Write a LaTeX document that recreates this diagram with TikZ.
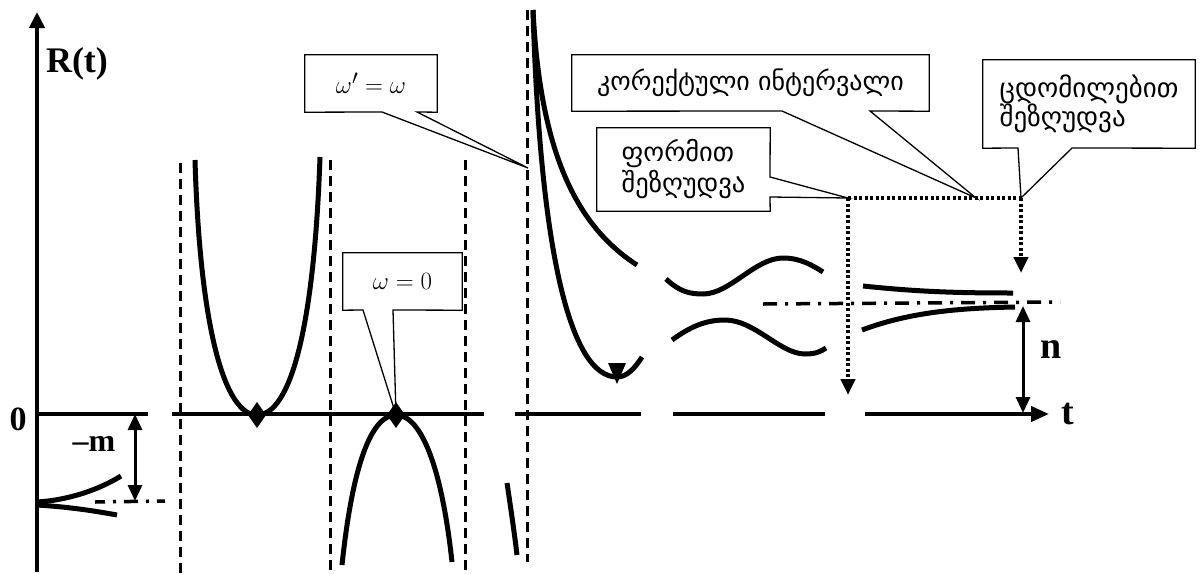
\documentclass[tikz,border=0pt]{standalone}
\usepackage[no-math]{fontspec}
\newfontfamily\geo{DejaVu Sans}
\newfontfamily\tnr{Liberation Serif}
\usetikzlibrary{arrows.meta}
\begin{document}
\begin{tikzpicture}[x=1pt,y=-1pt,
  curve/.style={line width=5pt},
  axisline/.style={line width=4pt},
  asym/.style={line width=3pt,dash pattern=on 10pt off 6pt},
  dotline/.style={line width=4pt,dash pattern=on 3pt off 2.5pt},
  dashdot/.style={line width=3.5pt,dash pattern=on 14pt off 8pt on 3pt off 8pt},
  callout/.style={line width=1.3pt,line join=miter},
  tip/.style={-{Triangle[length=16pt,width=14pt]}},
  tips/.style={{Triangle[length=16pt,width=14pt]}-{Triangle[length=16pt,width=14pt]}},
  lbl/.style={font=\tnr\bfseries\fontsize{34}{36}\selectfont,inner sep=0pt},
  mathtext/.style={font=\fontsize{30}{32}\selectfont,inner sep=0pt},
  geotext/.style={font=\geo\fontsize{26}{31}\selectfont,align=left,inner sep=0pt},
  boxnode/.style={draw=none,inner sep=0pt}]
\useasboundingbox (0,0) rectangle (1199,573);

% asymptotes
\draw[asym] (180,163) -- (180,573);
\draw[asym] (330,160) -- (330,573);
\draw[asym] (465,160) -- (465,573);
\draw[asym] (527,10) -- (527,562);

% axes
\coordinate (o) at (37,414);
\coordinate (ytop) at (37,12);
\draw[line width=4pt,-{Triangle[length=16pt,width=15pt]}] (37,572) -- (ytop);
\draw[axisline] (o) -- (148,414);
\draw[axisline] (172,414) -- (484,414);
\draw[axisline] (515,414) -- (641,414);
\draw[axisline] (673,414) -- (825,414);
\coordinate (tend) at (1049,414);
\draw[axisline,-{Triangle[length=18pt,width=15pt]}] (865,414) -- (tend);

% labels
\node[lbl,font=\tnr\bfseries\fontsize{36}{38}\selectfont] (Rt) at (77,64) {R(t)};
\node[lbl] (zero) at (18,419) {0};
\node[lbl,font=\tnr\bfseries\fontsize{32}{34}\selectfont] (mm) at (94,444) {–m};
\node[lbl,font=\tnr\bfseries\fontsize{38}{40}\selectfont] (nn) at (1051,350) {n};
\node[lbl,font=\tnr\bfseries\fontsize{38}{40}\selectfont] (tt) at (1068,414) {t};

% left branch
\draw[curve] (37,502) .. controls (70,500) and (100,489) .. (121,476);
\draw[curve] (37,505) .. controls (70,507) and (95,511) .. (117,515);
\draw[dashdot,dash phase=4pt] (95,502) -- (165,501);
\coordinate (mtop) at (135,414);
\coordinate (mbot) at (135,501);
\draw[line width=3pt,tips] (mtop) -- (mbot);

% upward U
\draw[curve] (195,160) .. controls (200,330) and (225,415) .. (257,415)
             .. controls (290,415) and (314,330) .. (320,157);
\coordinate (d1) at (257,415);
\fill (257,402) -- (266,415) -- (257,428) -- (248,415) -- cycle;

% downward cap
\draw[curve] (342,565) .. controls (352,470) and (370,415) .. (396,415)
             .. controls (422,415) and (442,470) .. (452,562);
\coordinate (d2) at (396,415);
\fill (396,402) -- (405,415) -- (396,428) -- (387,415) -- cycle;

% small piece left of asymptote
\draw[curve] (507,483) .. controls (511,510) and (514,530) .. (517,555);

% right branch
\draw[curve] (533,10) .. controls (540,150) and (575,225) .. (637,265);
\draw[curve] (533,10) .. controls (540,250) and (570,377) .. (617,377)
             .. controls (627,377) and (635,368) .. (642,357);
\fill (608,363) -- (626,363) -- (617,384) -- cycle;

% waves
\draw[curve] (666,279) .. controls (680,292) and (690,294) .. (703,294)
             .. controls (730,294) and (755,258) .. (783,258)
             .. controls (800,258) and (812,265) .. (823,272);
\draw[curve] (672,340) .. controls (690,327) and (705,320) .. (725,320)
             .. controls (755,320) and (780,354) .. (805,354)
             .. controls (815,354) and (820,352) .. (826,348);
\draw[dashdot] (763,304) -- (1060,302);

% converging curves
\draw[curve] (863,286) .. controls (920,292) and (960,293) .. (1013,293);
\draw[curve] (862,330) .. controls (910,312) and (960,308) .. (1015,307);
\coordinate (ntop) at (1023,306);
\coordinate (nbot) at (1023,413);
\draw[line width=3pt,tips] (ntop) -- (nbot);

% dotted guides
\coordinate (fp) at (848,198);
\coordinate (cp) at (976,198);
\coordinate (ep) at (1021,198);
\coordinate (fdown) at (848,395);
\coordinate (edown) at (1021,273);
\draw[dotline] (fp) -- (ep);
\draw[dotline,tip] (fp) -- (fdown);
\draw[dotline,tip] (ep) -- (edown);

% callout omega = 0
\node[boxnode,minimum width=119pt,minimum height=57pt,mathtext] (w0) at (402.5,281.5) {$\omega = 0$};
\draw[callout] (w0.south west) -- (w0.north west) -- (w0.north east) -- (w0.south east)
  -- (393,310) -- (d2) -- (363,310) -- cycle;

% callout omega' = omega
\coordinate (ap) at (528,168);
\node[boxnode,minimum width=132pt,minimum height=57pt,mathtext] (w1) at (371,83.5) {$\omega' = \omega$};
\draw[callout] (w1.south west) -- (w1.north west) -- (w1.north east) -- (w1.south east)
  -- (417,112) -- (ap) -- (382,112) -- cycle;

% callout correct interval
\node[boxnode,minimum width=357pt,minimum height=56pt,geotext] (ci) at (750.5,83) {კორექტული ინტერვალი};
\draw[callout] (ci.south west) -- (ci.north west) -- (ci.north east) -- (ci.south east)
  -- (870,111) -- (cp) -- (782,111) -- cycle;

% callout form restriction
\node[boxnode,minimum width=173pt,minimum height=83pt,geotext,font=\geo\fontsize{26.5}{31}\selectfont] (fr) at (683.5,169.5) {ფორმით\\შეზღუდვა};
\draw[callout] (fr.south west) -- (fr.north west) -- (fr.north east) -- (770,177)
  -- (fp) -- (770,197) -- (fr.south east) -- cycle;

% callout error restriction
\node[boxnode,minimum width=212pt,minimum height=88pt,geotext,font=\geo\fontsize{27}{29}\selectfont] (er) at (1089,104) {ცდომილებით\\შეზღუდვა};
\draw[callout] (er.south west) -- (er.north west) -- (er.north east) -- (er.south east)
  -- (1072,148) -- (ep) -- (1018,148) -- cycle;
\end{tikzpicture}
\end{document}
